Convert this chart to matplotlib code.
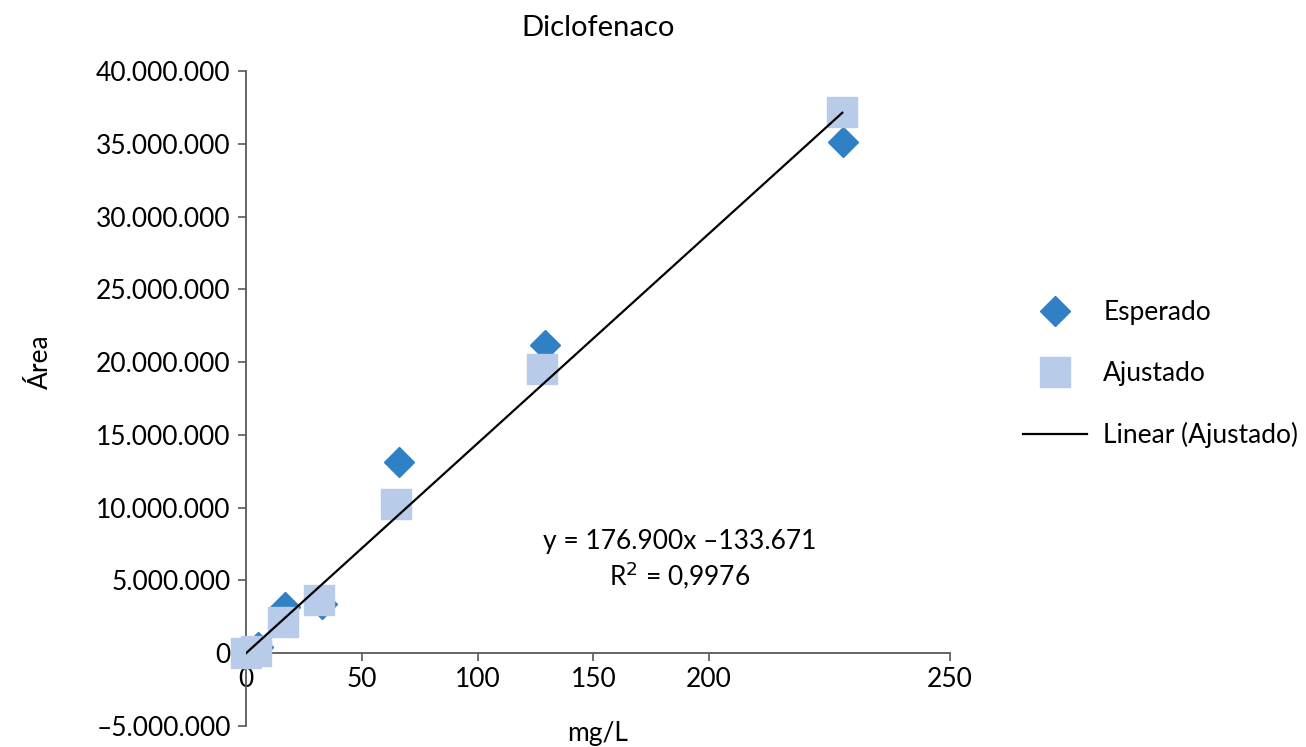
import numpy as np
import matplotlib
matplotlib.use("Agg")
import matplotlib.pyplot as plt
from matplotlib.ticker import FixedLocator, FuncFormatter

plt.rcParams['font.family'] = ['Lato', 'DejaVu Sans']

# data
conc_esp = [0, 5, 17, 33, 66, 129, 258]
area_esp = [0.0, 0.4e6, 3.2e6, 3.4e6, 13.15e6, 21.2e6, 35.1e6]
conc_aju = [0, 4.3, 16, 31.5, 64.8, 128, 257.5]
area_aju = [0.0, 0.14e6, 2.13e6, 3.65e6, 10.26e6, 19.5e6, 37.2e6]
# trend line as drawn (the printed equation does not match the drawn line)
trend_slope = 144200
trend_intercept = 0
x_tick_labels = ['0', '50', '100', '150', '200', '250']
eq_text = "y = 176.900x \u2013133.671"
r2_text = "R$^2$ = 0,9976"

col_esp = '#2F80C5'
col_aju = '#B8CBE8'
fs = 19
W, H = 1306, 747

fig = plt.figure(figsize=(W / 100, H / 100), dpi=100)
ax = fig.add_axes([246 / W, 1 - 726 / H, 704 / W, 655 / H])

ax.plot(conc_esp, area_esp, linestyle='none', marker='D', ms=15,
        color=col_esp, label='Esperado', zorder=3, clip_on=False)
ax.plot(conc_aju, area_aju, linestyle='none', marker='s', ms=21.5,
        color=col_aju, label='Ajustado', zorder=4, clip_on=False)

xs = np.array([min(conc_aju), max(conc_aju)])
ax.plot(xs, trend_slope * xs + trend_intercept, color='black', lw=1.6,
        label='Linear (Ajustado)', zorder=5)

x_max = 304
ax.set_xlim(0, x_max)
ax.set_ylim(-5e6, 40e6)

ax.xaxis.set_major_locator(FixedLocator([0, 50, 100, 150, 200, x_max]))
ax.set_xticklabels(x_tick_labels)
ax.yaxis.set_major_locator(FixedLocator(np.arange(-5e6, 40e6 + 1, 5e6)))


def fmt(v, pos):
    s = f"{abs(v):,.0f}".replace(',', '.')
    return ('\u2013' + s) if v < 0 else s


ax.yaxis.set_major_formatter(FuncFormatter(fmt))

for s in ['top', 'right']:
    ax.spines[s].set_visible(False)
ax.spines['bottom'].set_position(('data', 0))
for s in ['left', 'bottom']:
    ax.spines[s].set_color('#595959')
    ax.spines[s].set_linewidth(1.3)
ax.tick_params(axis='both', which='major', labelsize=fs, color='#595959',
               length=6, width=1.2, direction='out')
ax.tick_params(axis='y', pad=5)
ax.tick_params(axis='x', pad=4)

# titles and labels placed in pixel positions
fig.text(598 / W, 1 - 28 / H, 'Diclofenaco', fontsize=21, ha='center', va='center')
fig.text(598 / W, 1 - 733 / H, 'mg/L', fontsize=fs, ha='center', va='center')
fig.text(40 / W, 1 - 362 / H, 'Área', fontsize=fs, ha='center', va='center',
         rotation=90)

fig.text(680 / W, 1 - 541 / H, eq_text, fontsize=fs, ha='center', va='center')
fig.text(680 / W, 1 - 575 / H, r2_text, fontsize=fs, ha='center', va='center')

leg = fig.legend(loc='upper left', bbox_to_anchor=(1010 / W, 1 - 287 / H),
                 frameon=False, fontsize=fs, labelspacing=1.36, handlelength=2.4,
                 handletextpad=0.64, borderpad=0)

fig.savefig('out.png', dpi=100)
